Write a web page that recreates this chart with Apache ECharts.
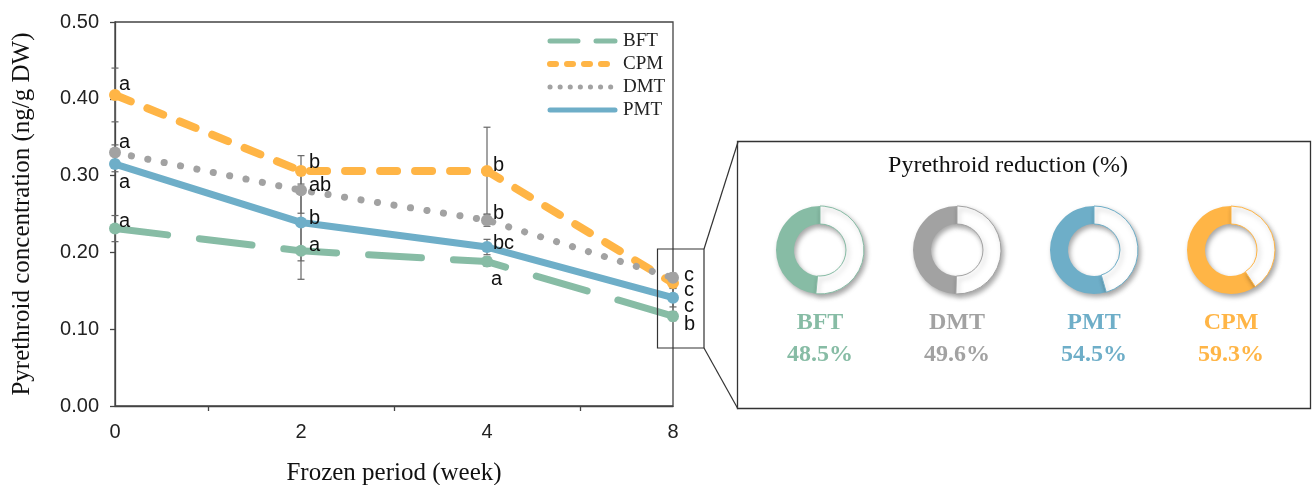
<!DOCTYPE html>
<html>
<head>
<meta charset="utf-8">
<script src="https://cdn.jsdelivr.net/npm/echarts@6/dist/echarts.min.js"></script>
<style>
  html, body { margin: 0; padding: 0; background: #fff; }
  #chart { width: 1315px; height: 485px; }
</style>
</head>
<body>
<div id="chart"></div>
<script>
// frozen period (week) categories
const weeks = ['0', '2', '4', '8']

// pyrethroid concentration (ng/g DW)
const bft = [0.231, 0.202, 0.188, 0.117]
const cpm = [0.405, 0.306, 0.306, 0.160]
const dmt = [0.330, 0.281, 0.242, 0.167]
const pmt = [0.315, 0.239, 0.207, 0.141]

// error bars (+/-)
const bftErr = [0.017, 0.037, 0.006, 0.006]
const cpmErr = [0.035, 0.020, 0.057, 0.006]
const dmtErr = [0.010, 0.030, 0.008, 0.006]
const pmtErr = [0.010, 0.050, 0.010, 0.012]

// significance letters
const bftLetters = ['a', 'a', 'a', 'b']
const cpmLetters = ['a', 'b', 'b', 'c']
const dmtLetters = ['a', 'ab', 'b', 'c']
const pmtLetters = ['a', 'b', 'bc', 'c']

const yTicks = ['0.00', '0.10', '0.20', '0.30', '0.40', '0.50']

// reduction panel
const reductionNames = ['BFT', 'DMT', 'PMT', 'CPM']
const reductions = [48.5, 49.6, 54.5, 59.3]

const colors = {
  BFT: '#87bca5',
  CPM: '#ffb546',
  DMT: '#a2a2a2',
  PMT: '#6eaec8'
}

const serif = '"Liberation Serif", "Times New Roman", serif'
const sans = '"Liberation Sans", Arial, sans-serif'

// label nudges for the letters (style only)
const labelShift = {
  BFT: [[-7, -7], [-3, -5], [-7, 18], [0, 8]],
  CPM: [[-7, -10], [-3, -9], [-5, -6], [0, 7]],
  DMT: [[-7, -10], [-3, -5], [-5, -7], [0, -2]],
  PMT: [[-7, 18], [-3, -4], [-5, -4], [0, 9]]
}

const lineTypes = {
  BFT: { width: 7, type: [53, 32], cap: 'round' },
  CPM: { width: 8, type: [17, 18], cap: 'round' },
  DMT: { width: 7, type: [0.1, 16.6], cap: 'round' },
  PMT: { width: 7, type: 'solid', cap: 'round' }
}
const legendTypes = {
  BFT: { width: 5, type: [28, 18], cap: 'round' },
  CPM: { width: 6, type: [6, 11], cap: 'round' },
  DMT: { width: 5, type: [0.1, 10], cap: 'round' },
  PMT: { width: 5, type: 'solid', cap: 'round' }
}

function lineSeries (name, values, letters) {
  return {
    name: name,
    type: 'line',
    z: 3,
    symbol: 'circle',
    symbolSize: 12,
    itemStyle: { color: colors[name] },
    lineStyle: Object.assign({ color: colors[name] }, lineTypes[name]),
    data: values.map((v, i) => ({
      value: [i, v],
      label: {
        show: true,
        position: 'right',
        distance: 5,
        offset: labelShift[name][i],
        formatter: letters[i],
        fontFamily: sans,
        fontSize: 20,
        color: '#111'
      }
    }))
  }
}

function errorSeries (values, errs) {
  return values.map((v, i) => [i, v - errs[i], v + errs[i]])
}

const errorData = [].concat(
  errorSeries(bft, bftErr),
  errorSeries(cpm, cpmErr),
  errorSeries(dmt, dmtErr),
  errorSeries(pmt, pmtErr)
)

const pieCenters = [820, 957, 1094, 1231]

const pieSeries = reductionNames.map((name, i) => ({
  type: 'pie',
  silent: true,
  center: [pieCenters[i], 250],
  radius: [26, 44],
  startAngle: 90,
  clockwise: false,
  label: { show: false },
  labelLine: { show: false },
  itemStyle: {
    shadowBlur: 5,
    shadowColor: 'rgba(0,0,0,0.35)',
    shadowOffsetX: 2,
    shadowOffsetY: 3
  },
  data: [
    { value: reductions[i], itemStyle: { color: colors[name] } },
    { value: 100 - reductions[i], itemStyle: { color: '#fff', borderColor: colors[name], borderWidth: 1 } }
  ]
}))

const panelText = []
reductionNames.forEach((name, i) => {
  panelText.push({
    type: 'text', x: pieCenters[i], y: 323,
    style: { text: name, font: 'bold 24px ' + serif, fill: colors[name], align: 'center', verticalAlign: 'middle', textAlign: 'center', textVerticalAlign: 'middle' }
  })
  panelText.push({
    type: 'text', x: pieCenters[i], y: 355,
    style: { text: reductions[i].toFixed(1) + '%', font: 'bold 24px ' + serif, fill: colors[name], align: 'center', verticalAlign: 'middle', textAlign: 'center', textVerticalAlign: 'middle' }
  })
})

const chart = echarts.init(document.getElementById('chart'))

chart.setOption({
  animation: false,
  backgroundColor: '#fff',
  grid: {
    left: 115,
    top: 22,
    width: 558,
    height: 384,
    outerBoundsMode: 'none',
    containLabel: false,
    show: true,
    borderColor: '#444',
    borderWidth: 1.3
  },
  legend: {
    orient: 'vertical',
    left: 547,
    top: 31,
    padding: 0,
    itemWidth: 65,
    itemHeight: 8,
    itemGap: 3,
    selectedMode: false,
    itemStyle: { opacity: 0 },
    textStyle: { fontFamily: serif, fontSize: 19, color: '#222', lineHeight: 20, padding: [0, 0, 0, 3] },
    data: ['BFT', 'CPM', 'DMT', 'PMT'].map(n => ({ name: n, lineStyle: legendTypes[n] }))
  },
  xAxis: {
    type: 'value',
    min: 0,
    max: 3,
    interval: 1,
    name: 'Frozen period (week)',
    nameLocation: 'middle',
    nameGap: 55,
    nameTextStyle: { fontFamily: serif, fontSize: 25, color: '#111' },
    axisLine: { lineStyle: { color: '#444', width: 1.3 } },
    axisTick: { show: false },
    minorTick: { show: true, splitNumber: 2, length: 5, lineStyle: { color: '#444', width: 1.3 } },
    splitLine: { show: false },
    axisLabel: {
      margin: 16,
      fontFamily: sans,
      fontSize: 20,
      color: '#222',
      formatter: v => weeks[v]
    }
  },
  yAxis: {
    type: 'value',
    min: 0,
    max: 0.5,
    interval: 0.1,
    name: 'Pyrethroid concentration (ng/g DW)',
    nameLocation: 'middle',
    nameGap: 80,
    nameRotate: 90,
    nameTextStyle: { fontFamily: serif, fontSize: 25, color: '#111' },
    axisLine: { show: true, lineStyle: { color: '#444', width: 1.3 } },
    axisTick: { show: true, length: 5, lineStyle: { color: '#444', width: 1.3 } },
    splitLine: { show: false },
    axisLabel: {
      margin: 16,
      fontFamily: sans,
      fontSize: 20,
      color: '#222',
      formatter: (v, i) => yTicks[i]
    }
  },
  series: [
    {
      type: 'custom',
      z: 2,
      silent: true,
      data: errorData,
      renderItem: function (params, api) {
        const lo = api.coord([api.value(0), api.value(1)])
        const hi = api.coord([api.value(0), api.value(2)])
        const st = { stroke: '#666', lineWidth: 1.2 }
        return {
          type: 'group',
          children: [
            { type: 'line', shape: { x1: lo[0], y1: hi[1], x2: lo[0], y2: lo[1] }, style: st },
            { type: 'line', shape: { x1: lo[0] - 3.5, y1: hi[1], x2: lo[0] + 3.5, y2: hi[1] }, style: st },
            { type: 'line', shape: { x1: lo[0] - 3.5, y1: lo[1], x2: lo[0] + 3.5, y2: lo[1] }, style: st }
          ]
        }
      }
    },
    lineSeries('BFT', bft, bftLetters),
    lineSeries('CPM', cpm, cpmLetters),
    lineSeries('DMT', dmt, dmtLetters),
    lineSeries('PMT', pmt, pmtLetters)
  ].concat(pieSeries),
  graphic: [
    { type: 'rect', shape: { x: 657.5, y: 249, width: 46.5, height: 99 }, style: { fill: null, stroke: '#333', lineWidth: 1.2 }, z: 10 },
    { type: 'line', shape: { x1: 704, y1: 249, x2: 738, y2: 142 }, style: { stroke: '#333', lineWidth: 1.2 } },
    { type: 'line', shape: { x1: 704, y1: 348, x2: 738, y2: 409 }, style: { stroke: '#333', lineWidth: 1.2 } },
    { type: 'rect', shape: { x: 737.5, y: 141.5, width: 573, height: 267 }, style: { fill: null, stroke: '#333', lineWidth: 1.3 } },
    {
      type: 'text', x: 1008, y: 166,
      style: { text: 'Pyrethroid reduction (%)', font: '24px ' + serif, fill: '#111', align: 'center', verticalAlign: 'middle', textAlign: 'center', textVerticalAlign: 'middle' }
    }
  ].concat(panelText)
})
</script>
</body>
</html>
